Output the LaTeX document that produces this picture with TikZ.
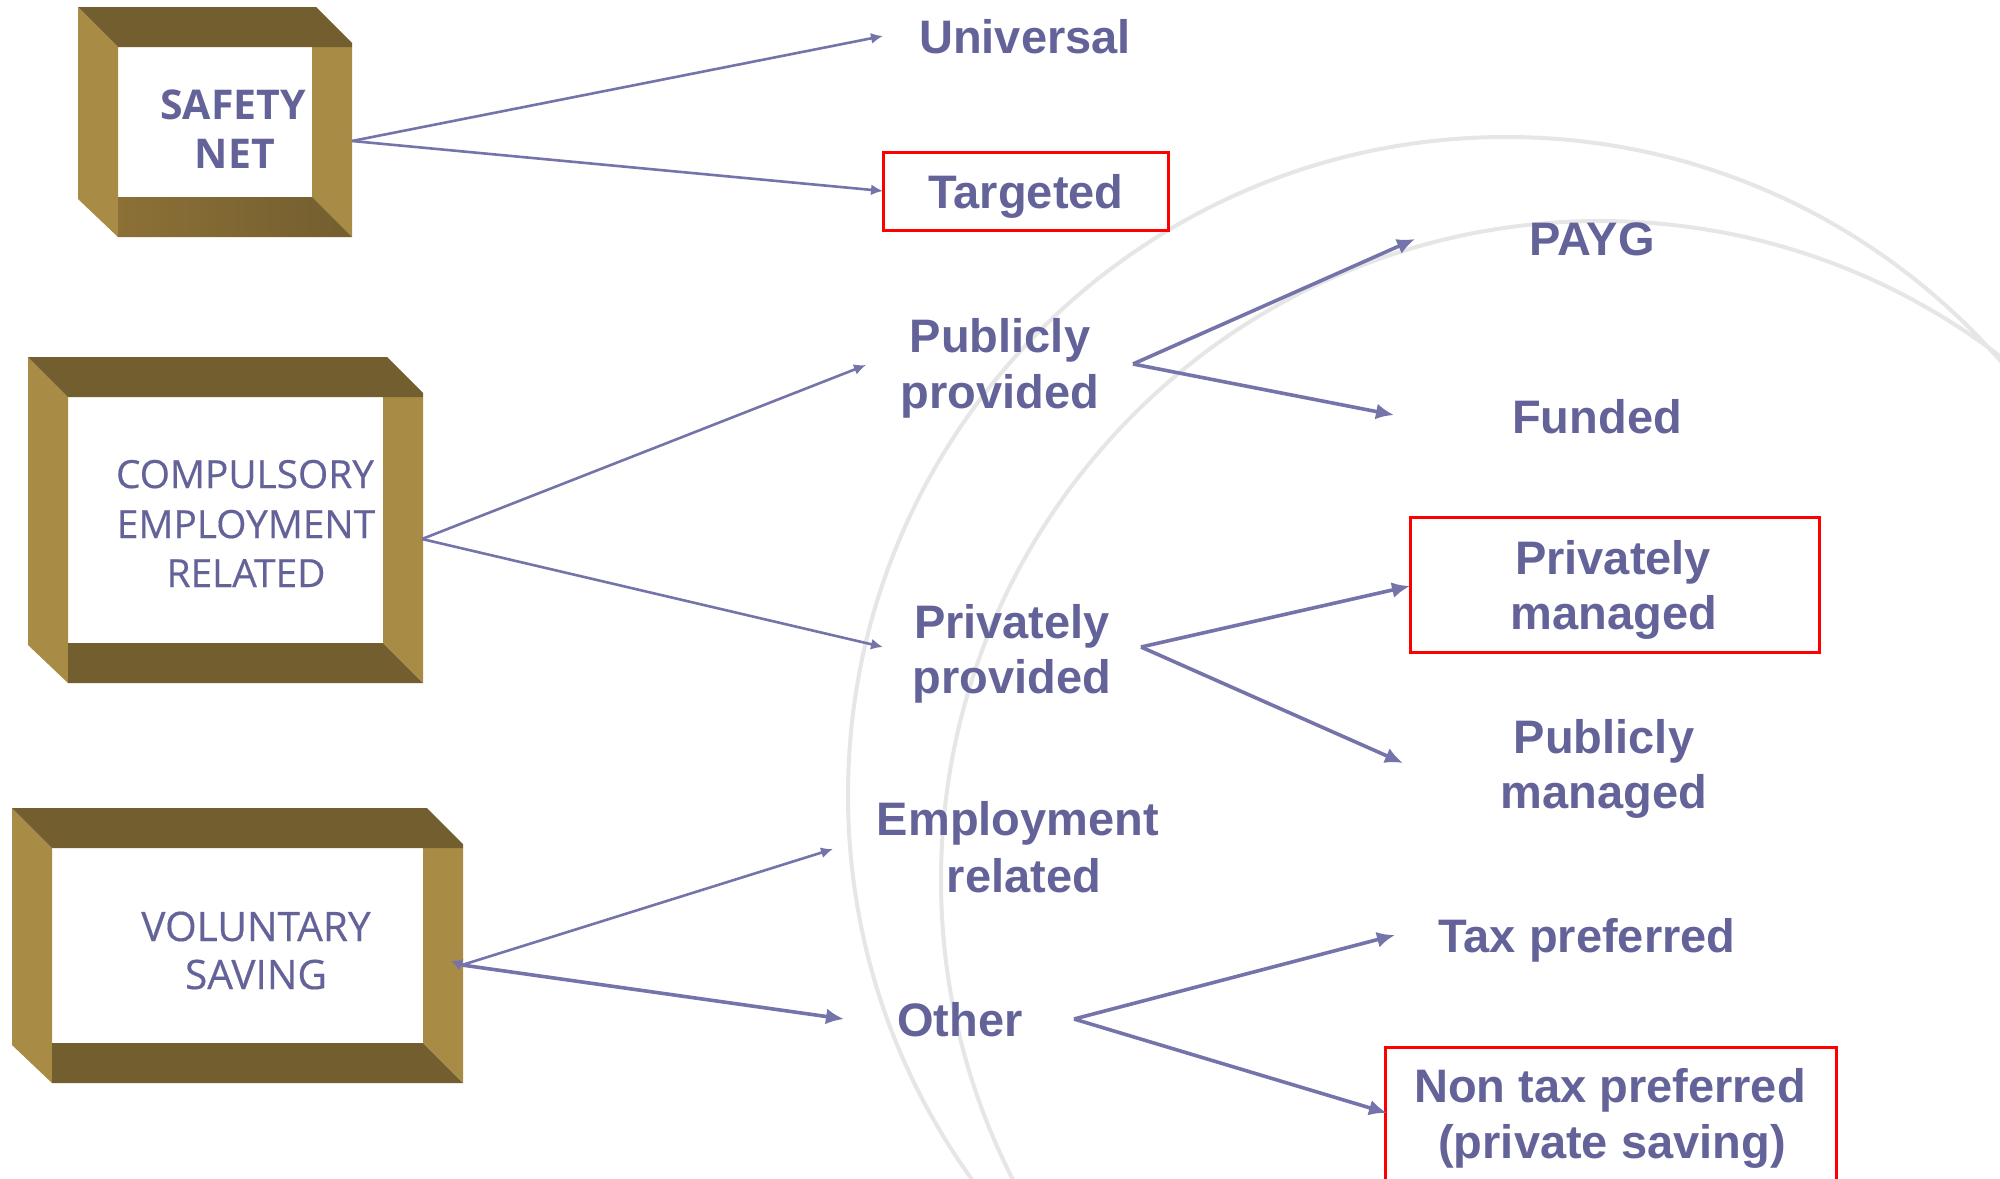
\documentclass[tikz,border=0pt]{standalone}
\usepackage{fontspec}
\setmainfont{Liberation Sans}
\newfontfamily\boxfont{Open Sans}
\newfontfamily\boxfontheavy[FakeBold=0.4]{Open Sans}
\usetikzlibrary{arrows.meta}

\definecolor{labelblue}{HTML}{636399}
\definecolor{arrowblue}{HTML}{7474AA}
\definecolor{goldlight}{HTML}{A88C45}
\definecolor{golddark}{HTML}{735E2F}
\definecolor{goldmid}{HTML}{8C7036}
\definecolor{arcgray}{HTML}{E6E6E6}
\definecolor{markred}{HTML}{FF0000}

\tikzset{
  choice/.style={font=\fontsize{23.5}{28}\selectfont\bfseries, text=labelblue,
                 anchor=base, inner sep=0pt},
  tier/.style={text=labelblue, anchor=base, inner sep=0pt},
  branch/.style={draw=arrowblue, line width=1.3pt, -{Latex[length=6pt,width=5.5pt]}},
  bigbranch/.style={draw=arrowblue, line width=1.8pt, -{Latex[length=9pt,width=8pt]}},
  highlight/.style={draw=markred, line width=1.5pt},
  backarc/.style={draw=arcgray, line width=2pt},
}

% hollow bevelled frame: #1 left, #2 top, #3 right, #4 bottom, #5 colour at the
% left end of the bottom face (frame width 40, bevel 36)
\newcommand\goldframe[5]{%
  \fill[goldlight] (#1,#2) -- (#1+40,#2+40) -- (#1+40,#4) -- (#1,#4-38) -- cycle;
  \fill[goldlight] (#3-40,#2+40) -- (#3,#2+40) -- (#3,#4) -- (#3-40,#4-40) -- cycle;
  \fill[golddark] (#1,#2) -- (#3-36,#2) -- (#3,#2+36) -- (#3,#2+40)
                  -- (#1+40,#2+40) -- cycle;
  \shade[left color=#5, right color=golddark]
        (#1+40,#4-40) -- (#3-40,#4-40) -- (#3,#4) -- (#1+40,#4) -- cycle;
}

\begin{document}
\begin{tikzpicture}[x=0.5pt,y=-0.5pt]
  \useasboundingbox (0,0) rectangle (2000,1178);
  \fill[white] (0,0) rectangle (2000,1178);
  \clip (0,0) rectangle (2000,1178);

  % faint background arcs
  \draw[backarc] (1506,795) circle[radius=658];
  \draw[backarc] (1600,880) circle[radius=659];

  % three pillars
  \goldframe{78}{7}{352}{237}{goldmid}
  \goldframe{28}{357}{423}{683}{golddark}
  \goldframe{12}{808}{463}{1083}{golddark}

  \node[tier, font=\boxfont\bfseries\fontsize{20.5}{24}\selectfont] (safety) at (233,119) {SAFETY};
  \node[tier, font=\boxfont\bfseries\fontsize{20.5}{24}\selectfont] (net) at (235,168) {NET};

  \node[tier, font=\boxfontheavy\fontsize{19.4}{24}\selectfont] (compulsory) at (245,488) {COMPULSORY};
  \node[tier, font=\boxfontheavy\fontsize{19.4}{24}\selectfont] (employment) at (246,538) {EMPLOYMENT};
  \node[tier, font=\boxfontheavy\fontsize{19.4}{24}\selectfont] (related) at (246,587) {RELATED};

  \node[tier, font=\boxfontheavy\fontsize{20.3}{24}\selectfont] (voluntary) at (256,941) {VOLUNTARY};
  \node[tier, font=\boxfontheavy\fontsize{20.3}{24}\selectfont] (saving) at (256,989) {SAVING};

  % highlighted options
  \draw[highlight] (883,152) rectangle (1168,230);
  \draw[highlight] (1410,517) rectangle (1819,652);
  \draw[highlight] (1385,1047) rectangle (1836,1210);

  % options
  \node[choice] (universal) at (1025,53) {Universal};
  \node[choice] (targeted) at (1026,208) {Targeted};
  \node[choice] (pubprovA) at (1000,352) {Publicly};
  \node[choice] (pubprovB) at (1000,408) {provided};
  \node[choice] (privprovA) at (1012,638) {Privately};
  \node[choice] (privprovB) at (1012,693) {provided};
  \node[choice] (empA) at (1018,835) {Employment};
  \node[choice] (empB) at (1024,892) {related};
  \node[choice] (other) at (960,1036) {Other};

  \node[choice] (payg) at (1592,255) {PAYG};
  \node[choice] (funded) at (1597,433) {Funded};
  \node[choice] (privmanA) at (1613,574) {Privately};
  \node[choice] (privmanB) at (1614,629) {managed};
  \node[choice] (pubmanA) at (1604,753) {Publicly};
  \node[choice] (pubmanB) at (1604,808) {managed};
  \node[choice] (tax) at (1587,952) {Tax preferred};
  \node[choice] (nontaxA) at (1610,1102) {Non tax preferred};
  \node[choice] (nontaxB) at (1612,1158) {(private saving)};

  % branch points and arrow ends
  \coordinate (snsplit) at (352,141);
  \coordinate (compsplit) at (422,539);
  \coordinate (volsplit) at (462,965);
  \coordinate (voltip) at (451,961);
  \coordinate (ppsplit) at (1133,364);
  \coordinate (pvsplit) at (1141,647);
  \coordinate (othsplit) at (1074,1019);

  \coordinate (toUniversal) at (883,36);
  \coordinate (toTargeted) at (883,191);
  \coordinate (toPubProv) at (866,365);
  \coordinate (toPrivProv) at (883,647);
  \coordinate (toEmp) at (833,849);
  \coordinate (toOther) at (844,1019);
  \coordinate (toPayg) at (1415,239);
  \coordinate (toFunded) at (1394,415);
  \coordinate (toPrivMan) at (1410,586);
  \coordinate (toPubMan) at (1403,763);
  \coordinate (toTax) at (1395,935);
  \coordinate (toNonTax) at (1387,1113);

  % connectors
  \draw[branch] (snsplit) -- (toUniversal);
  \draw[branch] (snsplit) -- (toTargeted);
  \draw[branch] (compsplit) -- (toPubProv);
  \draw[branch] (compsplit) -- (toPrivProv);
  \draw[branch] (volsplit) -- (toEmp);
  \draw[bigbranch] (volsplit) -- (toOther);
  \draw[draw=arrowblue, line width=1pt, -{Latex[length=5.5pt,width=6pt]}] (volsplit) -- (voltip);

  \draw[bigbranch] (ppsplit) -- (toPayg);
  \draw[bigbranch] (ppsplit) -- (toFunded);
  \draw[bigbranch] (pvsplit) -- (toPrivMan);
  \draw[bigbranch] (pvsplit) -- (toPubMan);
  \draw[bigbranch] (othsplit) -- (toTax);
  \draw[bigbranch] (othsplit) -- (toNonTax);
\end{tikzpicture}
\end{document}
